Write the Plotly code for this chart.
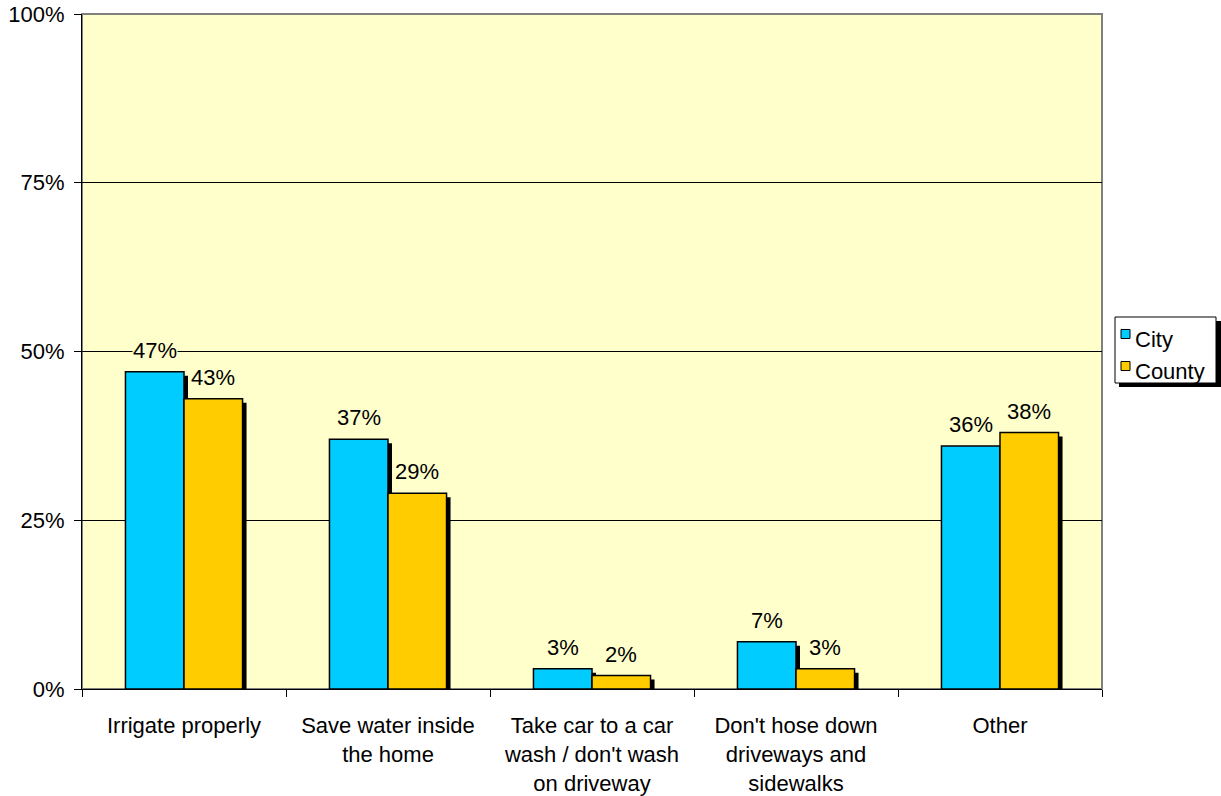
import plotly.graph_objects as go

categories = ["Irrigate properly", "Save water inside<br>the home",
              "Take car to a car<br>wash / don't wash<br>on driveway",
              "Don't hose down<br>driveways and<br>sidewalks", "Other"]
city = [47, 37, 3, 7, 36]
county = [43, 29, 2, 3, 38]
series = [("City", city, "#00CCFF"), ("County", county, "#FFCC00")]

W, H = 1221, 796
L, R, T, B = 82, 119, 14, 107
pw, ph = W - L - R, H - T - B
bw = 0.287
sx = 4 / (pw / 5)      # shadow x offset in category units
sy = 4 / ph * 100      # shadow y offset in data units
bg = "#FFFFCC"
FS = 22

def px(x):
    return (x - L) / pw

def py(y):
    return (H - B - y) / ph

fig = go.Figure()
offsets = [-bw, 0]
for (name, vals, col), off in zip(series, offsets):
    fig.add_trace(go.Bar(x=categories, y=vals, base=[-sy] * 5,
                         offset=off + sx, width=bw, marker=dict(color="black", line=dict(width=0)),
                         showlegend=False, hoverinfo="skip"))
for (name, vals, col), off in zip(series, offsets):
    fig.add_trace(go.Bar(x=categories, y=vals, name=name, offset=off, width=bw,
                         showlegend=False,
                         marker=dict(color=col, line=dict(color="black", width=1.5))))

ann = []
for (name, vals, col), off in zip(series, offsets):
    for i, v in enumerate(vals):
        ann.append(dict(x=i + off + bw / 2, y=v, xref="x", yref="y", text=f"{v}%",
                        showarrow=False, yanchor="bottom", yshift=8, bgcolor=bg,
                        borderpad=0, font=dict(size=FS, color="black")))

# manual legend (box, shadow, swatches, labels)
shapes = [
    dict(type="rect", xref="paper", yref="paper", x0=0, x1=1, y0=0, y1=1,
         line=dict(color="#808080", width=2), layer="below"),
    dict(type="rect", xref="paper", yref="paper", x0=px(1119), x1=px(1221), y0=py(387), y1=py(321),
         fillcolor="black", line=dict(width=0), layer="above"),
    dict(type="rect", xref="paper", yref="paper", x0=px(1115), x1=px(1216), y0=py(383), y1=py(317),
         fillcolor="white", line=dict(color="black", width=1), layer="above"),
]
leg_y = [334, 366]
for (name, vals, col), yc in zip(series, leg_y):
    shapes.append(dict(type="rect", xref="paper", yref="paper", x0=px(1121), x1=px(1130),
                       y0=py(yc + 4.5), y1=py(yc - 4.5), fillcolor=col,
                       line=dict(color="black", width=1), layer="above"))
    ann.append(dict(x=px(1133), y=py(yc + 5), xref="paper", yref="paper", text=name,
                    showarrow=False, xanchor="left", yanchor="middle",
                    font=dict(size=FS, color="black")))

fig.update_layout(
    width=W, height=H, margin=dict(l=L, r=R, t=T, b=B, autoexpand=False),
    paper_bgcolor="white", plot_bgcolor=bg, barmode="overlay", showlegend=False,
    font=dict(family="Liberation Sans, Arial, sans-serif", size=FS, color="black"),
    annotations=ann, shapes=shapes,
    xaxis=dict(type="category", tickson="boundaries", ticks="outside", ticklen=7,
               tickcolor="black", showline=True, linecolor="black", linewidth=1,
               showgrid=False, tickfont=dict(size=FS), range=[-0.5, 4.5], automargin=False,
               ticklabelstandoff=17),
    yaxis=dict(range=[0, 100], tickvals=[0, 25, 50, 75, 100],
               ticktext=["0%", "25%", "50%", "75%", "100%"], ticks="outside", ticklen=7,
               tickcolor="black", showline=True, linecolor="black", linewidth=1,
               showgrid=True, gridcolor="black", gridwidth=1, zeroline=False,
               tickfont=dict(size=FS), automargin=False, ticklabelstandoff=5),
)
fig.write_html("out.html", config={"displayModeBar": False},
               post_script="document.body.style.margin='0';")
